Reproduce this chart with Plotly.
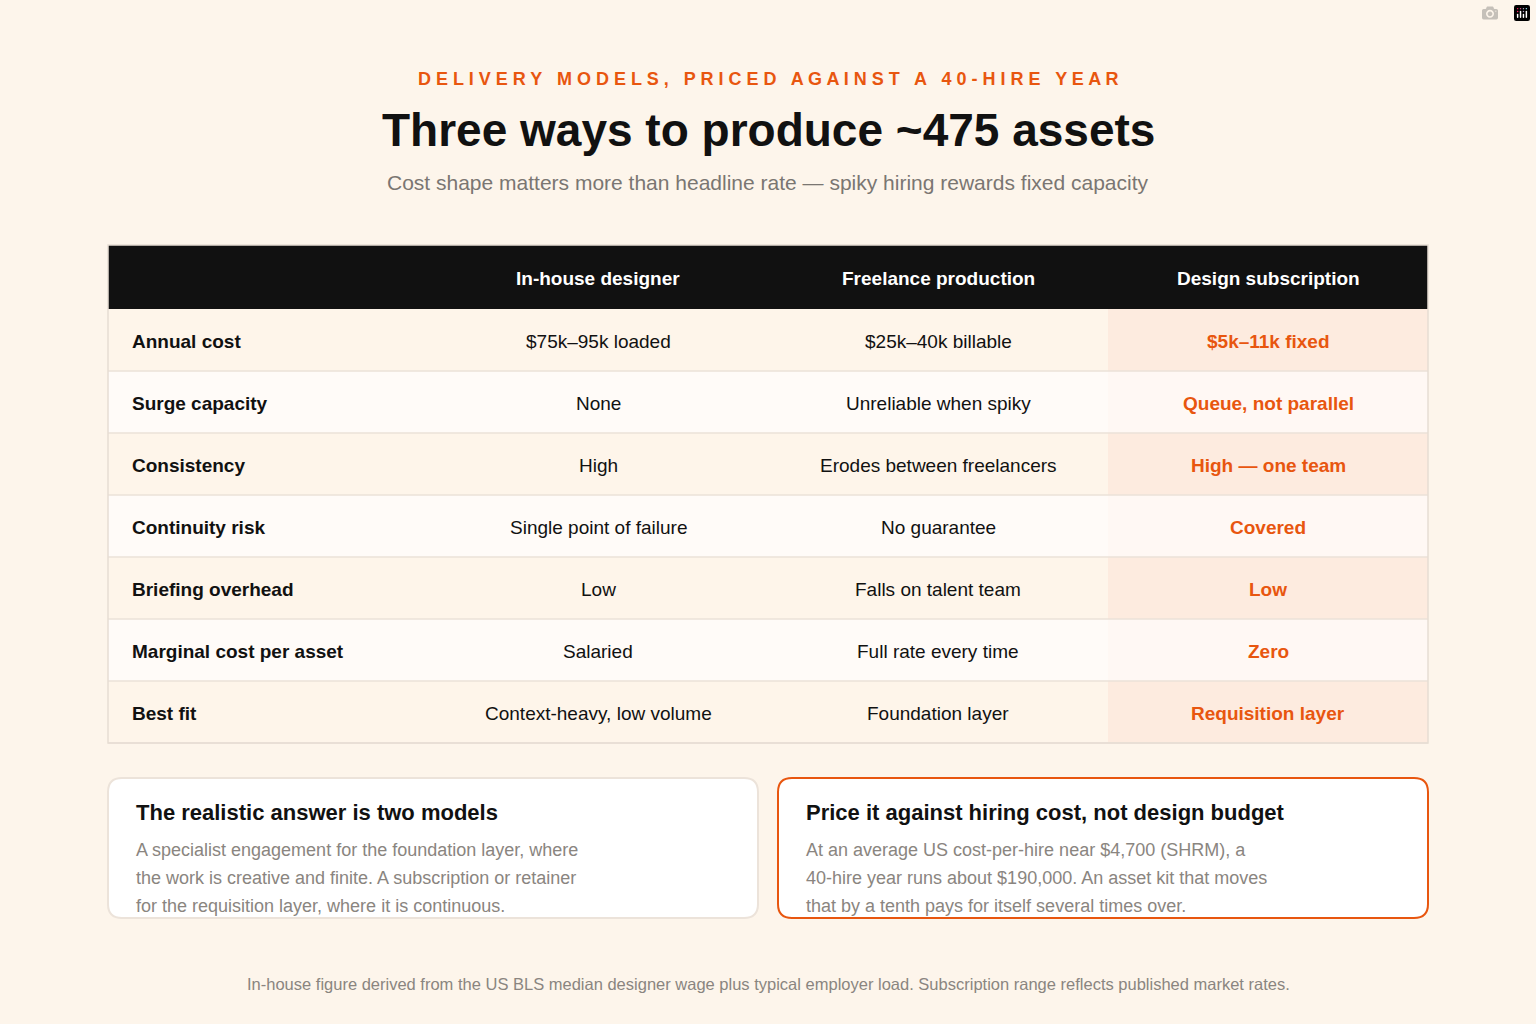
import plotly.graph_objects as go

BG = "#fdf5eb"
ORANGE = "#e8560f"
FONT = "Liberation Sans"

columns = ["", "In-house designer", "Freelance production", "Design subscription"]
rows = ["Annual cost", "Surge capacity", "Consistency", "Continuity risk",
        "Briefing overhead", "Marginal cost per asset", "Best fit"]
inhouse = ["$75k–95k loaded", "None", "High", "Single point of failure",
           "Low", "Salaried", "Context-heavy, low volume"]
freelance = ["$25k–40k billable", "Unreliable when spiky", "Erodes between freelancers",
             "No guarantee", "Falls on talent team", "Full rate every time", "Foundation layer"]
subscription = ["$5k–11k fixed", "Queue, not parallel", "High — one team", "Covered",
                "Low", "Zero", "Requisition layer"]

col_edges = [108, 428, 768, 1108, 1428]
head_top, head_h, row_h = 245, 64, 62

fig = go.Figure()

def rect(x0, y0, x1, y1, fill, line=None):
    fig.add_shape(type="rect", x0=x0, y0=y0, x1=x1, y1=y1, xref="x", yref="y",
                  fillcolor=fill, line=dict(color=line or fill, width=1 if line else 0), layer="below")

def text(x, y, s, size, color, anchor="center"):
    fig.add_annotation(x=x, y=y, xref="x", yref="y", text=s, showarrow=False,
                       xanchor=anchor, yanchor="middle", align="left",
                       font=dict(family=FONT, size=size, color=color))

# header
rect(col_edges[0], head_top, col_edges[-1], head_top + head_h, "#111111")
for j, c in enumerate(columns):
    if c:
        text((col_edges[j] + col_edges[j + 1]) / 2, head_top + head_h / 2 + 1, "<b>%s</b>" % c, 19, "white")

# body rows
for i, r in enumerate(rows):
    y0 = head_top + head_h + i * row_h
    y1 = y0 + row_h
    ym = y0 + row_h / 2 + 1
    base = "#fef5ea" if i % 2 == 0 else "#fffbf8"
    hl = "#fdebdf" if i % 2 == 0 else "#fff8f4"
    rect(col_edges[0], y0, col_edges[3], y1, base)
    rect(col_edges[3], y0, col_edges[4], y1, hl)
    fig.add_shape(type="line", x0=col_edges[0], x1=col_edges[-1], y0=y1, y1=y1,
                  xref="x", yref="y", line=dict(color="#ebe2d8", width=1.5))
    text(col_edges[0] + 22, ym, "<b>%s</b>" % r, 19, "#111111", "left")
    text((col_edges[1] + col_edges[2]) / 2, ym, inhouse[i], 19, "#111111")
    text((col_edges[2] + col_edges[3]) / 2, ym, freelance[i], 19, "#111111")
    text((col_edges[3] + col_edges[4]) / 2, ym, "<b>%s</b>" % subscription[i], 19, ORANGE)

# outer table border
fig.add_shape(type="rect", x0=col_edges[0], x1=col_edges[-1], y0=head_top,
              y1=head_top + head_h + len(rows) * row_h, xref="x", yref="y",
              line=dict(color="#e6ddd3", width=1.5))

def card(x0, x1, y0, y1, border):
    r = 14
    path = (f"M{x0+r},{y0} L{x1-r},{y0} Q{x1},{y0} {x1},{y0+r} L{x1},{y1-r} Q{x1},{y1} {x1-r},{y1} "
            f"L{x0+r},{y1} Q{x0},{y1} {x0},{y1-r} L{x0},{y0+r} Q{x0},{y0} {x0+r},{y0} Z")
    fig.add_shape(type="path", path=path, xref="x", yref="y", fillcolor="#ffffff",
                  line=dict(color=border, width=2), layer="below")

card(108, 758, 778, 918, "#ece3da")
card(778, 1428, 778, 918, ORANGE)

cards = [
    (134, "The realistic answer is two models",
     ["A specialist engagement for the foundation layer, where",
      "the work is creative and finite. A subscription or retainer",
      "for the requisition layer, where it is continuous."]),
    (804, "Price it against hiring cost, not design budget",
     ["At an average US cost-per-hire near $4,700 (SHRM), a",
      "40-hire year runs about $190,000. An asset kit that moves",
      "that by a tenth pays for itself several times over."]),
]
for x, title, lines in cards:
    text(x, 812, "<b>%s</b>" % title, 22, "#111111", "left")
    for k, ln in enumerate(lines):
        text(x, 850 + 28 * k, ln, 18, "#8a8580", "left")

kicker = "DELIVERY MODELS, PRICED AGAINST A 40-HIRE YEAR"
text(768, 79, "<b>%s</b>" % "   ".join(" ".join(w) for w in kicker.split(" ")), 18, ORANGE)
text(768, 130, "<b>Three ways to produce ~475 assets</b>", 46, "#111111")
text(768, 182, "Cost shape matters more than headline rate — spiky hiring rewards fixed capacity", 21, "#7a7672")
text(768, 984, "In-house figure derived from the US BLS median designer wage plus typical employer load. Subscription range reflects published market rates.",
     16.5, "#8a8580")

fig.update_xaxes(range=[0, 1536], visible=False, fixedrange=True)
fig.update_yaxes(range=[1024, 0], visible=False, fixedrange=True)
fig.update_layout(width=1536, height=1024, margin=dict(l=0, r=0, t=0, b=0),
                  paper_bgcolor=BG, plot_bgcolor=BG, showlegend=False)
fig.write_html("out.html", post_script="document.body.style.margin='0';document.body.style.background='#fdf5eb';")
